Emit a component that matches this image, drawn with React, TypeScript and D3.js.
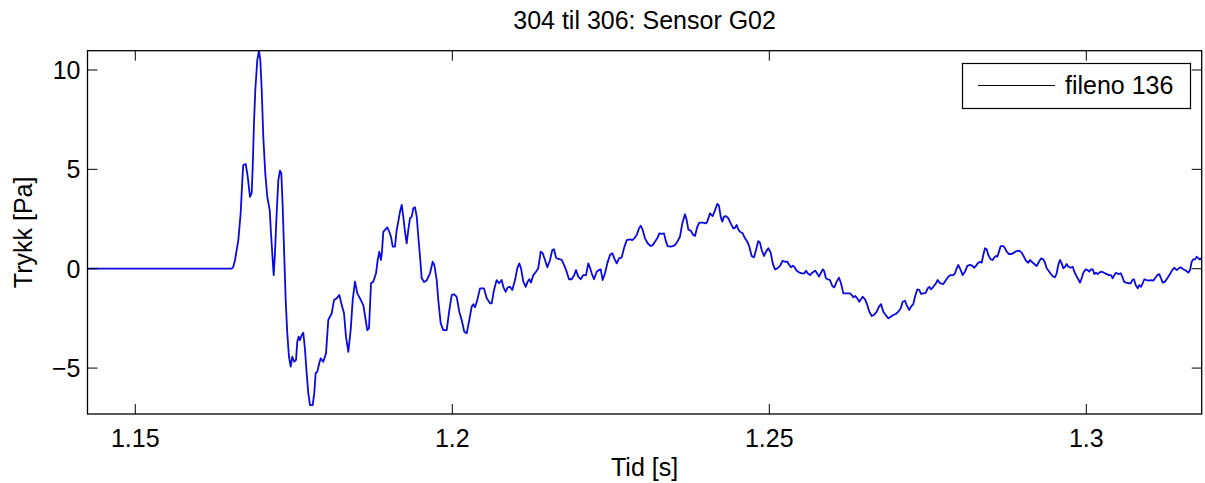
import * as d3 from "d3";
import { useEffect, useRef } from "react";

// Labels and ticks
const title = "304 til 306: Sensor G02";
const xLabel = "Tid [s]";
const yLabel = "Trykk [Pa]";
const legendLabel = "fileno 136";
const xTicks = [1.15, 1.2, 1.25, 1.3];
const yTicks = [-5, 0, 5, 10];
const xDomain = [1.142461, 1.318202];
const yDomain = [-7.31, 10.97];

// Pressure trace, [time (s), pressure (Pa)]
const fileno136 = [
  [1.14246, 0], [1.16521, 0], [1.16546, 0.1], [1.16573, 0.44], [1.16625, 1.44], [1.16662, 2.8], [1.16688, 4.46], [1.16703, 5.22], [1.16741, 5.27], [1.16773, 4.63],
  [1.16809, 3.62], [1.16836, 3.81], [1.16852, 5.13], [1.16872, 7.33], [1.16893, 8.99], [1.16924, 10.5], [1.16951, 10.97], [1.16972, 10.5], [1.16994, 8.99], [1.17019, 6.64],
  [1.1705, 4.8], [1.17082, 3.62], [1.1712, 2.95], [1.1714, 1.8], [1.17167, 0.44], [1.17183, -0.32], [1.17203, 0.79], [1.1723, 2.8], [1.17256, 4.46], [1.17282, 4.93],
  [1.17303, 4.82], [1.17325, 3.12], [1.1735, 0.6], [1.17372, -1.58], [1.17397, -3.24], [1.17424, -4.43], [1.17451, -4.93], [1.17476, -4.43], [1.17508, -4.68], [1.17535, -4.59],
  [1.17555, -3.67], [1.17577, -3.42], [1.17598, -3.59], [1.17625, -3.34], [1.1765, -3.22], [1.17677, -4.09], [1.17703, -5.26], [1.17729, -6.27], [1.17756, -6.86], [1.17798, -6.86],
  [1.17823, -6.26], [1.17845, -5.26], [1.17871, -5.18], [1.17902, -4.76], [1.17924, -4.51], [1.17965, -4.68], [1.18008, -4.26], [1.18044, -2.58], [1.18098, -2.24], [1.18134, -1.58],
  [1.18177, -1.49], [1.18218, -1.32], [1.18256, -1.83], [1.18292, -2.24], [1.18323, -3.42], [1.1836, -4.18], [1.18397, -3.09], [1.18429, -1.58], [1.18465, -0.65], [1.18502, -1.24],
  [1.18544, -1.49], [1.18596, -1.83], [1.18634, -2.58], [1.18659, -3.09], [1.18686, -3.0], [1.18718, -0.73], [1.18754, -0.65], [1.18797, -0.23], [1.18823, 0.44], [1.18849, 0.86],
  [1.18875, 0.44], [1.18891, 0.86], [1.18912, 1.86], [1.18939, 1.95], [1.18975, 2.08], [1.19006, 1.86], [1.19033, 1.61], [1.1906, 1.11], [1.19096, 1.11], [1.19123, 1.95],
  [1.19148, 2.37], [1.19175, 2.87], [1.19202, 3.21], [1.19227, 2.62], [1.19254, 1.86], [1.19281, 1.28], [1.19306, 1.95], [1.19333, 2.54], [1.1936, 2.62], [1.19385, 3.04],
  [1.19412, 3.09], [1.19439, 2.62], [1.19464, 1.61], [1.19491, 0.6], [1.19517, -0.47], [1.19554, -0.67], [1.19596, -0.59], [1.19648, -0.23], [1.19691, 0.35], [1.19716, 0.19],
  [1.19754, -0.57], [1.19779, -1.58], [1.19817, -2.75], [1.19858, -3.09], [1.19912, -3.09], [1.19953, -2.08], [1.19991, -1.32], [1.20032, -1.29], [1.20069, -1.42], [1.2011, -2.16],
  [1.20148, -2.58], [1.20189, -3.17], [1.20227, -3.25], [1.20263, -2.67], [1.20306, -1.91], [1.20331, -1.79], [1.20358, -1.94], [1.20394, -1.58], [1.20437, -0.99], [1.205, -0.99],
  [1.20543, -1.49], [1.20595, -1.74], [1.20621, -1.74], [1.20658, -1.07], [1.207, -0.57], [1.20737, -0.73], [1.20779, -0.57], [1.20804, -0.91], [1.20842, -1.16], [1.20874, -0.94],
  [1.2091, -0.91], [1.20946, -1.07], [1.20989, -0.57], [1.21025, 0.02], [1.21057, 0.27], [1.21084, 0.02], [1.2112, -0.65], [1.21158, -0.91], [1.21189, -0.65], [1.21215, -0.53],
  [1.21241, -0.7], [1.21278, -0.32], [1.2132, -0.15], [1.21356, 0.02], [1.21394, 0.86], [1.21426, 0.78], [1.21462, 0.44], [1.21498, 0.07], [1.21541, 0.44], [1.21577, 0.94],
  [1.21604, 0.98], [1.21636, 0.55], [1.21672, 0.49], [1.21726, 0.44], [1.21762, 0.19], [1.21804, -0.15], [1.21841, -0.53], [1.21883, -0.53], [1.21924, -0.32], [1.21951, -0.07],
  [1.21987, -0.4], [1.22025, -0.53], [1.22066, -0.32], [1.22109, -0.32], [1.22145, 0.27], [1.22172, 0.05], [1.22203, -0.27], [1.22235, -0.53], [1.22278, -0.15], [1.22314, -0.07],
  [1.22341, -0.03], [1.22372, -0.57], [1.22409, -0.23], [1.22445, 0.27], [1.22487, 0.69], [1.22524, 0.78], [1.22555, 0.52], [1.22593, 0.27], [1.22629, 0.52], [1.22672, 0.57],
  [1.22708, 1.03], [1.22751, 1.44], [1.22803, 1.48], [1.22839, 1.44], [1.22871, 1.53], [1.22909, 1.7], [1.22945, 2.03], [1.22972, 2.16], [1.23003, 1.95], [1.23039, 1.53],
  [1.23082, 1.28], [1.23129, 1.14], [1.23161, 1.19], [1.23197, 1.36], [1.23233, 1.53], [1.23265, 1.78], [1.23303, 1.75], [1.23339, 1.78], [1.23371, 1.36], [1.23397, 1.14],
  [1.23445, 1.11], [1.23476, 1.14], [1.23513, 1.19], [1.23549, 1.36], [1.23591, 1.61], [1.23628, 2.28], [1.2367, 2.74], [1.23697, 2.45], [1.23722, 1.98], [1.23765, 1.9],
  [1.23801, 1.7], [1.23828, 1.65], [1.23864, 2.11], [1.23896, 2.32], [1.2395, 2.32], [1.24002, 2.28], [1.24022, 2.37], [1.24065, 2.79], [1.24107, 2.65], [1.24144, 2.95],
  [1.2418, 3.26], [1.24207, 3.16], [1.24233, 2.62], [1.24259, 2.37], [1.24285, 2.62], [1.24317, 2.65], [1.24353, 2.54], [1.24391, 2.28], [1.24432, 2.03], [1.24459, 2.06],
  [1.24486, 2.2], [1.24511, 1.98], [1.24538, 1.86], [1.2458, 1.78], [1.24617, 1.53], [1.24653, 1.36], [1.24685, 1.11], [1.24722, 0.64], [1.24759, 0.57], [1.2479, 0.94],
  [1.24826, 1.39], [1.24853, 1.31], [1.2488, 0.94], [1.24916, 0.64], [1.24948, 0.86], [1.24984, 1.03], [1.25022, 0.81], [1.25054, 0.27], [1.2509, -0.03], [1.25126, 0.02],
  [1.25169, 0.14], [1.25211, 0.4], [1.25248, 0.35], [1.25284, 0.35], [1.25315, 0.19], [1.25342, 0.07], [1.25369, 0.15], [1.25394, 0.1], [1.25432, -0.1], [1.25468, -0.18],
  [1.25511, -0.23], [1.25552, -0.23], [1.25579, -0.1], [1.25606, -0.23], [1.25642, -0.32], [1.25678, -0.2], [1.25721, -0.1], [1.25748, -0.2], [1.25784, -0.4], [1.25811, -0.23],
  [1.25842, -0.03], [1.25863, -0.1], [1.25894, -0.48], [1.25921, -0.53], [1.25957, -0.57], [1.25994, -0.87], [1.26025, -0.94], [1.26063, -0.65], [1.26099, -0.45], [1.26131, -0.73],
  [1.26167, -1.24], [1.26221, -1.24], [1.26273, -1.24], [1.263, -1.32], [1.26325, -1.44], [1.26352, -1.37], [1.26388, -1.49], [1.2642, -1.66], [1.26446, -1.54], [1.26473, -1.41],
  [1.2651, -1.54], [1.26546, -1.83], [1.26577, -2.16], [1.26615, -2.38], [1.26651, -2.33], [1.26694, -2.16], [1.2673, -1.91], [1.26762, -1.78], [1.26798, -2.16], [1.26836, -2.33],
  [1.26877, -2.5], [1.26915, -2.42], [1.26956, -2.33], [1.26994, -2.28], [1.27035, -2.16], [1.27073, -1.99], [1.27104, -1.66], [1.2714, -1.61], [1.27167, -1.83], [1.27208, -2.08],
  [1.27235, -1.91], [1.27271, -1.78], [1.27298, -1.41], [1.27334, -1.04], [1.27366, -1.07], [1.27393, -1.27], [1.27429, -1.24], [1.27467, -1.21], [1.27498, -0.99], [1.27524, -0.91],
  [1.27551, -1.04], [1.27587, -0.91], [1.27629, -0.73], [1.27656, -0.57], [1.27692, -0.73], [1.27744, -0.77], [1.27787, -0.57], [1.27823, -0.4], [1.27861, -0.32], [1.27902, -0.32],
  [1.27929, -0.23], [1.27956, 0.02], [1.27981, 0.19], [1.28019, -0.07], [1.2805, -0.32], [1.28087, -0.15], [1.28123, 0.14], [1.28166, 0.19], [1.28202, 0.14], [1.28233, 0.05],
  [1.2826, 0.14], [1.28287, 0.27], [1.28323, 0.35], [1.2835, 0.3], [1.28375, 0.69], [1.28402, 1.03], [1.28429, 0.98], [1.28454, 0.69], [1.28492, 0.47], [1.28524, 0.44],
  [1.28549, 0.57], [1.28576, 0.64], [1.28596, 0.6], [1.28623, 0.86], [1.2865, 1.14], [1.28691, 1.14], [1.28718, 1.03], [1.28745, 0.86], [1.28781, 0.74], [1.28823, 0.74],
  [1.2886, 0.81], [1.28902, 0.89], [1.28943, 0.91], [1.28981, 0.81], [1.29017, 0.6], [1.29049, 0.4], [1.29085, 0.3], [1.29112, 0.44], [1.29139, 0.35], [1.2918, 0.24],
  [1.29218, 0.14], [1.29254, 0.35], [1.29286, 0.52], [1.29322, 0.47], [1.29349, 0.3], [1.29375, 0.02], [1.29416, -0.15], [1.29454, -0.32], [1.2948, -0.4], [1.29506, -0.43],
  [1.29533, -0.23], [1.29558, 0.19], [1.29585, 0.44], [1.29612, 0.27], [1.29637, 0.02], [1.29664, 0.1], [1.29691, 0.24], [1.29716, 0.1], [1.29754, 0.05], [1.29786, 0.1],
  [1.29811, -0.15], [1.29849, -0.4], [1.29874, -0.53], [1.29901, -0.7], [1.29927, -0.48], [1.29953, -0.2], [1.29991, -0.03], [1.30022, -0.07], [1.30047, -0.15], [1.30074, -0.03],
  [1.30101, -0.03], [1.30126, -0.27], [1.30153, -0.2], [1.3018, -0.27], [1.30205, -0.2], [1.30243, -0.15], [1.30279, -0.2], [1.30322, -0.27], [1.30358, -0.32], [1.3039, -0.32],
  [1.30416, -0.48], [1.30442, -0.32], [1.30468, -0.2], [1.30505, -0.27], [1.30543, -0.23], [1.30568, -0.4], [1.30595, -0.65], [1.30626, -0.7], [1.30662, -0.73], [1.307, -0.73],
  [1.30726, -0.57], [1.30752, -0.53], [1.30779, -0.82], [1.30811, -0.99], [1.30836, -0.82], [1.30863, -0.91], [1.3089, -0.73], [1.30915, -0.53], [1.30953, -0.57], [1.30989, -0.6],
  [1.31021, -0.57], [1.31057, -0.6], [1.31084, -0.48], [1.3112, -0.32], [1.31151, -0.27], [1.31178, -0.48], [1.31205, -0.7], [1.31241, -0.65], [1.31278, -0.48], [1.3132, -0.27],
  [1.31356, -0.07], [1.31388, 0.05], [1.31426, -0.07], [1.31462, 0.02], [1.31489, 0.07], [1.3153, -0.03], [1.31573, -0.1], [1.31609, -0.2], [1.31636, -0.07], [1.31662, 0.35],
  [1.31688, 0.47], [1.31715, 0.47], [1.31741, 0.6], [1.31767, 0.52], [1.31793, 0.47], [1.3182, 0.54],
];

const FONT = "'Liberation Sans', Arial, Helvetica, sans-serif";

const App = () => {
  const svgRef = useRef(null);

  useEffect(() => {
    if (!svgRef.current) return;
    const svg = d3.select(svgRef.current);
    svg.selectAll("*").remove();

    // axes box in pixels
    const left = 87.5;
    const right = 1201.7;
    const top = 50.7;
    const bottom = 414;
    const tickLen = 10;

    const x = d3.scaleLinear().domain(xDomain).range([left, right]);
    const y = d3.scaleLinear().domain(yDomain).range([bottom, top]);

    svg.append("rect").attr("width", 1205).attr("height", 483).attr("fill", "#fff");

    svg
      .append("defs")
      .append("clipPath")
      .attr("id", "plot-clip")
      .append("rect")
      .attr("x", left)
      .attr("y", top)
      .attr("width", right - left)
      .attr("height", bottom - top);

    // data line
    const line = d3
      .line()
      .x((d) => x(d[0]))
      .y((d) => y(d[1]));

    svg
      .append("path")
      .datum(fileno136)
      .attr("clip-path", "url(#plot-clip)")
      .attr("fill", "none")
      .attr("stroke", "#0a0ae0")
      .attr("stroke-width", 1.8)
      .attr("stroke-linejoin", "round")
      .attr("d", line);

    // ticks on all four sides, pointing inward
    const gTicks = svg.append("g").attr("stroke", "#000").attr("stroke-width", 1);
    xTicks.forEach((v) => {
      gTicks.append("line").attr("x1", x(v)).attr("x2", x(v)).attr("y1", bottom).attr("y2", bottom - tickLen);
      gTicks.append("line").attr("x1", x(v)).attr("x2", x(v)).attr("y1", top).attr("y2", top + tickLen);
    });
    yTicks.forEach((v) => {
      gTicks.append("line").attr("x1", left).attr("x2", left + tickLen).attr("y1", y(v)).attr("y2", y(v));
      gTicks.append("line").attr("x1", right).attr("x2", right - tickLen).attr("y1", y(v)).attr("y2", y(v));
    });

    // axes box
    svg
      .append("rect")
      .attr("x", left)
      .attr("y", top)
      .attr("width", right - left)
      .attr("height", bottom - top)
      .attr("fill", "none")
      .attr("stroke", "#000")
      .attr("stroke-width", 1.3);

    const gText = svg.append("g").attr("font-family", FONT).attr("font-size", 25).attr("fill", "#000");

    // tick labels
    xTicks.forEach((v) => {
      gText.append("text").attr("x", x(v)).attr("y", bottom + 33).attr("text-anchor", "middle").text(String(v));
    });
    yTicks.forEach((v) => {
      gText
        .append("text")
        .attr("x", left - 7)
        .attr("y", y(v) + 9)
        .attr("text-anchor", "end")
        .text(v < 0 ? `\u2212${Math.abs(v)}` : String(v));
    });

    // title and axis labels
    const midX = (left + right) / 2;
    gText.append("text").attr("x", midX).attr("y", 29).attr("text-anchor", "middle").text(title);
    gText.append("text").attr("x", midX).attr("y", 476).attr("text-anchor", "middle").text(xLabel);
    gText
      .append("text")
      .attr("transform", `translate(32, ${(top + bottom) / 2}) rotate(-90)`)
      .attr("text-anchor", "middle")
      .text(yLabel);

    // legend
    const lg = svg.append("g");
    lg.append("rect")
      .attr("x", 962.5)
      .attr("y", 63.5)
      .attr("width", 228)
      .attr("height", 45)
      .attr("fill", "#fff")
      .attr("stroke", "#000")
      .attr("stroke-width", 1.2);
    lg.append("line").attr("x1", 978).attr("x2", 1055).attr("y1", 85.5).attr("y2", 85.5).attr("stroke", "#000").attr("stroke-width", 1.2);
    lg.append("text")
      .attr("x", 1065)
      .attr("y", 94)
      .attr("font-family", FONT)
      .attr("font-size", 25)
      .text(legendLabel);
  }, []);

  return <svg ref={svgRef} width={1205} height={483} style={{ position: "absolute", left: 0, top: 0 }} />;
};

export default App;
